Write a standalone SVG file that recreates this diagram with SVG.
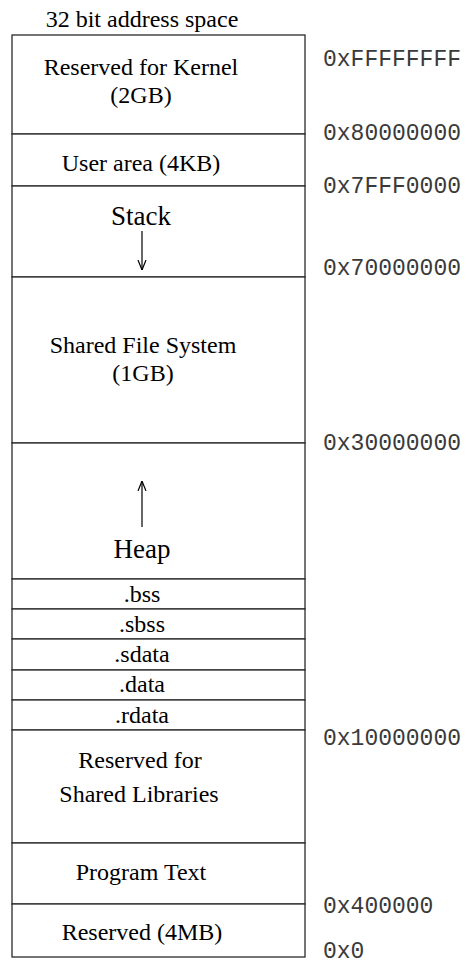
<svg xmlns="http://www.w3.org/2000/svg" width="468" height="966" viewBox="0 0 468 966">
<style>
  .seg { fill: #ffffff; stroke: #2a2a2a; stroke-width: 1.3; }
  .lbl { font-family: "Liberation Serif", "Times New Roman", serif; font-size: 24px; fill: #000; text-anchor: middle; }
  .big { font-size: 27px; }
  .addr { font-family: "Liberation Mono", "Courier New", monospace; font-size: 23px; fill: #3a3a3a; }
  .arr { stroke: #000; stroke-width: 1.2; fill: none; }
</style>
<defs>
  <marker id="head" viewBox="0 0 10 10" refX="10" refY="5" markerWidth="10" markerHeight="10" markerUnits="userSpaceOnUse" orient="auto">
    <path d="M0,1 L10,5 L0,9" fill="none" stroke="#000" stroke-width="1.2"/>
  </marker>
</defs>
<rect width="468" height="966" fill="#ffffff"/>
<text id="title" class="lbl" x="142" y="27">32 bit address space</text>

<g id="kernel"><rect class="seg" x="12" y="35" width="293" height="99"/>
  <text class="lbl" x="141" y="75">Reserved for Kernel</text>
  <text class="lbl" x="141" y="103">(2GB)</text></g>
<g id="user"><rect class="seg" x="12" y="134" width="293" height="52"/>
  <text class="lbl" x="141" y="171">User area (4KB)</text></g>
<g id="stack"><rect class="seg" x="12" y="186" width="293" height="91"/>
  <text class="lbl big" x="141" y="225">Stack</text></g>
<g id="shared"><rect class="seg" x="12" y="277" width="293" height="166"/>
  <text class="lbl" x="143" y="353">Shared File System</text>
  <text class="lbl" x="143" y="381">(1GB)</text></g>
<g id="heap"><rect class="seg" x="12" y="443" width="293" height="136"/>
  <text class="lbl big" x="142" y="558">Heap</text></g>
<g id="bss"><rect class="seg" x="12" y="579" width="293" height="30"/>
  <text class="lbl" x="142" y="601.5">.bss</text></g>
<g id="sbss"><rect class="seg" x="12" y="609" width="293" height="30"/>
  <text class="lbl" x="142" y="631.5">.sbss</text></g>
<g id="sdata"><rect class="seg" x="12" y="639" width="293" height="31"/>
  <text class="lbl" x="142" y="661.5">.sdata</text></g>
<g id="data"><rect class="seg" x="12" y="670" width="293" height="30"/>
  <text class="lbl" x="142" y="691.5">.data</text></g>
<g id="rdata"><rect class="seg" x="12" y="700" width="293" height="30"/>
  <text class="lbl" x="142" y="722.5">.rdata</text></g>
<g id="libs"><rect class="seg" x="12" y="730" width="293" height="113"/>
  <text class="lbl" x="140" y="768">Reserved for</text>
  <text class="lbl" x="139" y="802">Shared Libraries</text></g>
<g id="text"><rect class="seg" x="12" y="843" width="293" height="61"/>
  <text class="lbl" x="141" y="880">Program Text</text></g>
<g id="reserved"><rect class="seg" x="12" y="904" width="293" height="53"/>
  <text class="lbl" x="142" y="940">Reserved (4MB)</text></g>

<g id="connectors">
  <line class="arr" x1="142" y1="231" x2="142" y2="270" marker-end="url(#head)"/>
  <line class="arr" x1="142" y1="527" x2="142" y2="481" marker-end="url(#head)"/>
</g>

<g id="addresses">
  <text class="addr" x="323" y="66">0xFFFFFFFF</text>
  <text class="addr" x="323" y="140">0x80000000</text>
  <text class="addr" x="323" y="193">0x7FFF0000</text>
  <text class="addr" x="323" y="275">0x70000000</text>
  <text class="addr" x="323" y="450">0x30000000</text>
  <text class="addr" x="323" y="745">0x10000000</text>
  <text class="addr" x="323" y="913">0x400000</text>
  <text class="addr" x="323" y="958">0x0</text>
</g>
</svg>
